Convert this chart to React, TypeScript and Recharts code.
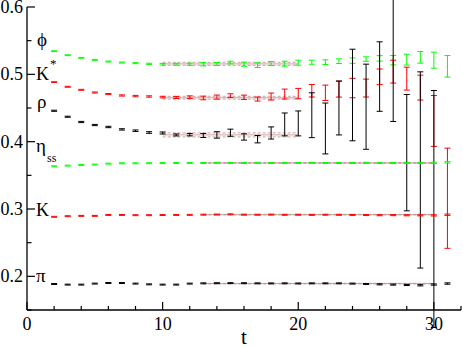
import React from 'react'
import { ComposedChart, Scatter, ErrorBar, XAxis, YAxis, ReferenceLine } from 'recharts'

const W = 463
const H = 348
const FONT = "'Times New Roman', Times, 'Liberation Serif', 'DejaVu Serif', serif"

// time slices
const times = [2, 3, 4, 5, 6, 7, 8, 9, 10, 11, 12, 13, 14, 15, 16, 17, 18, 19, 20, 21, 22, 23, 24, 25, 26, 27, 28, 29, 30, 31]

// effective masses per channel (t = 2..31), null = not shown
const phi = [0.5344, 0.5284, 0.5245, 0.5215, 0.519, 0.5175, 0.5166, 0.5156, 0.515, 0.515, 0.515, 0.515, 0.5154, 0.5175, 0.515, 0.5136, 0.516, 0.5158, 0.5173, 0.518, 0.518, 0.5195, 0.5204, 0.5227, 0.5237, 0.521, 0.5218, 0.5252, 0.521, 0.5119]
const phiErr = [0.0006, 0.0006, 0.0006, 0.0007, 0.0007, 0.0008, 0.0008, 0.0009, 0.0012, 0.0014, 0.0016, 0.0025, 0.0022, 0.002, 0.003, 0.0035, 0.003, 0.0037, 0.0037, 0.003, 0.0035, 0.0035, 0.004, 0.0033, 0.0041, 0.007, 0.0081, 0.0086, 0.0119, 0.016]

const kst = [0.4884, 0.4815, 0.477, 0.473, 0.4707, 0.4686, 0.4677, 0.4671, 0.4662, 0.4657, 0.466, 0.4649, 0.4662, 0.4684, 0.4659, 0.4633, 0.467, 0.4707, 0.4714, 0.4756, 0.4726, 0.4781, 0.4796, 0.4796, 0.4963, 0.504, 0.4936, 0.4803, 0.4308, 0.316]
const kstErr = [0.0006, 0.0007, 0.0007, 0.0008, 0.0008, 0.0009, 0.001, 0.001, 0.0012, 0.0015, 0.002, 0.0027, 0.003, 0.0027, 0.0032, 0.003, 0.0052, 0.0074, 0.0077, 0.0093, 0.0114, 0.0119, 0.0144, 0.0133, 0.0116, 0.017, 0.017, 0.0185, 0.0378, 0.0744]

const rho = [0.4459, 0.437, 0.4292, 0.4247, 0.4218, 0.4182, 0.4163, 0.4136, 0.4129, 0.41, 0.4104, 0.4092, 0.41, 0.4133, 0.407, 0.4037, 0.4129, 0.4256, 0.4271, 0.4393, 0.4196, 0.45, 0.4693, 0.4519, 0.4967, 0.56, 0.3837, 0.358, 0.3, null]
const rhoErr = [0.0008, 0.0008, 0.0009, 0.0009, 0.001, 0.001, 0.0011, 0.0012, 0.0015, 0.0015, 0.0018, 0.003, 0.0048, 0.0053, 0.0047, 0.0055, 0.009, 0.017, 0.0185, 0.0333, 0.0378, 0.04, 0.068, 0.0632, 0.0516, 0.13, 0.0864, 0.1457, 0.176, null]

const etaSS = [0.3634, 0.3644, 0.3655, 0.366, 0.3674, 0.3679, 0.3679, 0.368, 0.3682, 0.3683, 0.3684, 0.3684, 0.3686, 0.3684, 0.3685, 0.3686, 0.3684, 0.3685, 0.3684, 0.3686, 0.3684, 0.3683, 0.3684, 0.3686, 0.3684, 0.3683, 0.3685, 0.3684, 0.3686, 0.3693]
const etaSSErr = [0.0007, 0.0007, 0.0007, 0.0007, 0.0007, 0.0007, 0.0007, 0.0007, 0.0007, 0.0007, 0.0007, 0.0007, 0.0007, 0.0007, 0.0007, 0.0007, 0.0007, 0.0007, 0.0007, 0.0007, 0.0007, 0.0007, 0.0008, 0.0008, 0.0008, 0.0008, 0.0008, 0.0009, 0.0009, 0.001]

const kaon = [0.2884, 0.2893, 0.2898, 0.2898, 0.2912, 0.2912, 0.2908, 0.2908, 0.291, 0.2912, 0.2913, 0.2916, 0.2918, 0.2921, 0.2916, 0.2915, 0.2917, 0.2914, 0.2915, 0.2913, 0.2915, 0.2914, 0.2912, 0.291, 0.2908, 0.2909, 0.2907, 0.2906, 0.2905, 0.2915]
const kaonErr = [0.0007, 0.0007, 0.0007, 0.0007, 0.0007, 0.0007, 0.0007, 0.0007, 0.0007, 0.0007, 0.0007, 0.0007, 0.0007, 0.0007, 0.0007, 0.0007, 0.0007, 0.0007, 0.0007, 0.0007, 0.0007, 0.0007, 0.0007, 0.0007, 0.0008, 0.0008, 0.0008, 0.0008, 0.0009, 0.001]

const pion = [0.1886, 0.1877, 0.1877, 0.1892, 0.1901, 0.1901, 0.1892, 0.1881, 0.1877, 0.1877, 0.1892, 0.1896, 0.1898, 0.1899, 0.1898, 0.1896, 0.1895, 0.1896, 0.1894, 0.1896, 0.1896, 0.1896, 0.1892, 0.1886, 0.1881, 0.1877, 0.1871, 0.1867, 0.1878, 0.1893]
const pionErr = [0.0007, 0.0007, 0.0007, 0.0007, 0.0007, 0.0007, 0.0007, 0.0007, 0.0007, 0.0007, 0.0007, 0.0007, 0.0007, 0.0007, 0.0007, 0.0007, 0.0007, 0.0007, 0.0007, 0.0007, 0.0007, 0.0007, 0.0007, 0.0007, 0.0008, 0.0008, 0.0008, 0.0009, 0.0009, 0.001]

// plateau fits: value, error, fit range
const fitValues = [0.5155, 0.4652, 0.4101, 0.3684, 0.2916, 0.1893]
const fitErrors = [0.0022, 0.002, 0.003, 0.0005, 0.0004, 0.0004]
const fitFrom = [10, 10, 10, 13, 13, 13]
const fitTo = [20, 20, 20, 30, 30, 30]

const xTicks = [0, 2, 4, 6, 8, 10, 12, 14, 16, 18, 20, 22, 24, 26, 28, 30, 32]
const xMajor = [0, 10, 20, 30]
const yTicks = [0.15, 0.2, 0.25, 0.3, 0.35, 0.4, 0.45, 0.5, 0.55, 0.6]

const GREEN = '#00ff00'
const RED = '#ff0000'
const BLACK = '#000000'

const toPoints = (vals: (number | null)[], errs: (number | null)[]) =>
  times
    .map((t, i) => ({ x: t, y: vals[i], e: errs[i] }))
    .filter((d) => d.y !== null)

const series = [
  { name: 'phi', color: GREEN, data: toPoints(phi, phiErr) },
  { name: 'kst', color: RED, data: toPoints(kst, kstErr) },
  { name: 'rho', color: BLACK, data: toPoints(rho, rhoErr) },
  { name: 'etass', color: GREEN, data: toPoints(etaSS, etaSSErr) },
  { name: 'kaon', color: RED, data: toPoints(kaon, kaonErr) },
  { name: 'pion', color: BLACK, data: toPoints(pion, pionErr) },
]

const isMajorY = (v: number) => Math.abs(v * 10 - Math.round(v * 10)) < 1e-6
const fmtY = (v: number) => v.toFixed(1)
const textStyle = { fontFamily: FONT }

// ticks point into the frame; major ones longer
const BottomTick = (props: any) => {
  const { x, y, payload } = props
  const major = xMajor.includes(payload.value)
  return (
    <g>
      <line x1={x} x2={x} y1={y} y2={y - (major ? 8 : 4)} stroke="#000" strokeWidth={1.2} />
      {major && (
        <text x={x} y={y + 20} textAnchor="middle" style={textStyle} fontSize={18} fill="#000">
          {payload.value}
        </text>
      )}
    </g>
  )
}

const TopTick = (props: any) => {
  const { x, y, payload } = props
  const major = xMajor.includes(payload.value)
  return <line x1={x} x2={x} y1={y} y2={y + (major ? 8 : 4)} stroke="#000" strokeWidth={1.2} />
}

const LeftTick = (props: any) => {
  const { x, y, payload } = props
  const major = isMajorY(payload.value)
  return (
    <g>
      <line x1={x} x2={x + (major ? 8 : 4.5)} y1={y} y2={y} stroke="#000" strokeWidth={1.2} />
      {major && (
        <text x={x - 4} y={y + 6} textAnchor="end" style={textStyle} fontSize={18} fill="#000">
          {fmtY(payload.value)}
        </text>
      )}
    </g>
  )
}

const RightTick = (props: any) => {
  const { x, y, payload } = props
  const major = isMajorY(payload.value)
  return <line x1={x} x2={x - (major ? 8 : 4.5)} y1={y} y2={y} stroke="#000" strokeWidth={1.2} />
}

const NoMarker = () => <g />

export default function App() {
  return (
    <div style={{ position: 'absolute', left: 0, top: 0, width: W, height: H, background: '#fff', fontFamily: FONT }}>
      <ComposedChart width={W} height={H} margin={{ top: 7, right: 2, bottom: 0, left: 0 }} style={{ fontFamily: FONT }}>
        <XAxis
          type="number"
          dataKey="x"
          domain={[0, 32]}
          allowDataOverflow
          ticks={xTicks}
          interval={0}
          tickSize={0}
          tickMargin={0}
          height={38}
          tickLine={false}
          axisLine={{ stroke: '#000', strokeWidth: 1.3 }}
          tick={<BottomTick />}
        />
        <XAxis
          xAxisId="top"
          orientation="top"
          type="number"
          domain={[0, 32]}
          allowDataOverflow
          ticks={xTicks}
          interval={0}
          tickSize={0}
          tickMargin={0}
          height={0}
          tickLine={false}
          axisLine={{ stroke: '#000', strokeWidth: 1.3 }}
          tick={<TopTick />}
        />
        <YAxis
          type="number"
          dataKey="y"
          domain={[0.15, 0.6]}
          allowDataOverflow
          ticks={yTicks}
          interval={0}
          tickSize={0}
          tickMargin={0}
          width={27}
          tickLine={false}
          axisLine={{ stroke: '#000', strokeWidth: 1.3 }}
          tick={<LeftTick />}
        />
        <YAxis
          yAxisId="right"
          orientation="right"
          type="number"
          domain={[0.15, 0.6]}
          allowDataOverflow
          ticks={yTicks}
          interval={0}
          tickSize={0}
          tickMargin={0}
          width={0}
          tickLine={false}
          axisLine={{ stroke: '#000', strokeWidth: 1.3 }}
          tick={<RightTick />}
        />

        {fitValues.map((v, i) => (
          <React.Fragment key={'fit' + i}>
            <ReferenceLine
              segment={[{ x: fitFrom[i], y: v + fitErrors[i] }, { x: fitTo[i], y: v + fitErrors[i] }]}
              stroke="#d9b3b3"
              strokeWidth={1.2}
              strokeDasharray="3 2"
            />
            <ReferenceLine
              segment={[{ x: fitFrom[i], y: v - fitErrors[i] }, { x: fitTo[i], y: v - fitErrors[i] }]}
              stroke="#d9b3b3"
              strokeWidth={1.2}
              strokeDasharray="3 2"
            />
            <ReferenceLine
              segment={[{ x: fitFrom[i], y: v }, { x: fitTo[i], y: v }]}
              stroke="#bc8f8f"
              strokeWidth={1}
              strokeOpacity={0.8}
            />
          </React.Fragment>
        ))}

        {series.map((s) => (
          <Scatter key={s.name} data={s.data} fill={s.color} shape={NoMarker} isAnimationActive={false}>
            <ErrorBar dataKey="e" direction="y" width={3} stroke={s.color} strokeWidth={1} isAnimationActive={false} />
          </Scatter>
        ))}
      </ComposedChart>

      <svg width={W} height={H} style={{ position: 'absolute', left: 0, top: 0, pointerEvents: 'none', fontFamily: FONT }}>
        <g fill="#000">
          <text x={37} y={46} fontSize={19}>ϕ</text>
          <text x={36} y={80} fontSize={18}>K</text>
          <text x={50} y={68} fontSize={13}>*</text>
          <text x={37} y={108} fontSize={19}>ρ</text>
          <text x={36} y={152} fontSize={19}>η</text>
          <text x={47} y={162} fontSize={12}>ss</text>
          <text x={36} y={216} fontSize={18}>K</text>
          <text x={36} y={282} fontSize={19}>π</text>
          <text x={244} y={344} fontSize={21} textAnchor="middle">t</text>
        </g>
      </svg>
    </div>
  )
}
